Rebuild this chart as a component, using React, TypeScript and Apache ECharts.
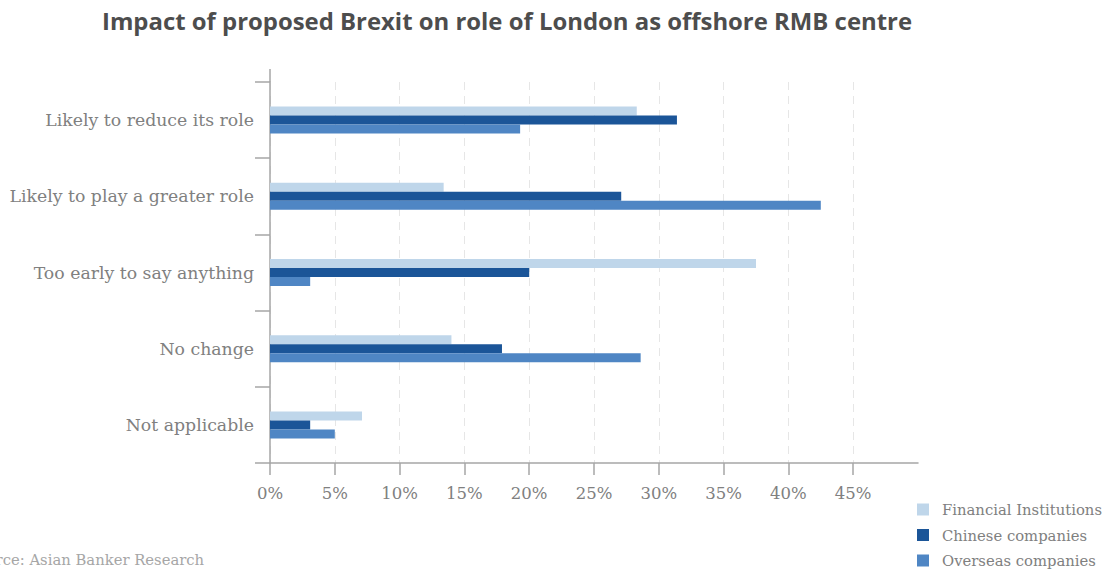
import React, { useEffect, useRef } from "react";
import * as echarts from "echarts";

const categories = [
  "Likely to reduce its role",
  "Likely to play a greater role",
  "Too early to say anything",
  "No change",
  "Not applicable",
];
const financialInstitutions = [28.3, 13.4, 37.5, 14.0, 7.1];
const chineseCompanies = [31.4, 27.1, 20.0, 17.9, 3.1];
const overseasCompanies = [19.3, 42.5, 3.1, 28.6, 5.0];
const tickValues = [0, 5, 10, 15, 20, 25, 30, 35, 40, 45];

const serif = "'DejaVu Serif', serif";

export default function App() {
  const ref = useRef<HTMLDivElement>(null);
  useEffect(() => {
    const chart = echarts.init(ref.current!, null, { renderer: "svg" });
    chart.setOption({
      animation: false,
      backgroundColor: "#ffffff",
      title: {
        text: "Impact of proposed Brexit on role of London as offshore RMB centre",
        left: 97,
        top: 3,
        textStyle: {
          fontFamily: "'Open Sans', sans-serif",
          fontWeight: "bold",
          fontSize: 23.9,
          color: "#4d4d4d",
        },
      },
      legend: {
        orient: "vertical",
        left: 912,
        top: 497,
        itemWidth: 12,
        itemHeight: 12,
        itemGap: 10.5,
        icon: "rect",
        textStyle: { fontFamily: serif, fontSize: 14.8, color: "#808080", padding: [0, 0, 0, 8] },
        data: ["Financial Institutions", "Chinese companies", "Overseas companies"],
      },
      grid: { left: 270, right: 195, top: 82, bottom: 112, containLabel: false },
      xAxis: {
        type: "value",
        min: 0,
        max: 50,
        interval: 5,
        axisLine: { show: true, lineStyle: { color: "#a6a6a6", width: 1.5 } },
        axisTick: { show: true, length: 12, customValues: tickValues, lineStyle: { color: "#a6a6a6", width: 1.5 } },
        axisLabel: {
          customValues: tickValues,
          formatter: (v: number) => v + "%",
          fontFamily: serif,
          fontSize: 16.5,
          color: "#808080",
          margin: 22,
        },
        splitLine: { show: true, lineStyle: { color: "#e6e6e6", type: [8, 6], width: 1 } },
      },
      yAxis: {
        type: "category",
        inverse: true,
        data: categories,
        axisLine: { show: true, lineStyle: { color: "#a6a6a6", width: 1.5 } },
        axisTick: { show: true, length: 15, lineStyle: { color: "#a6a6a6", width: 1.5 } },
        axisLabel: { fontFamily: serif, fontSize: 17.3, color: "#808080", margin: 16 },
      },
      series: [
        {
          name: "Financial Institutions",
          type: "bar",
          data: financialInstitutions,
          itemStyle: { color: "#bfd6ea" },
          barWidth: 9,
          barGap: "0%",
        },
        {
          name: "Chinese companies",
          type: "bar",
          data: chineseCompanies,
          itemStyle: { color: "#1b5598" },
          barWidth: 9,
          barGap: "0%",
        },
        {
          name: "Overseas companies",
          type: "bar",
          data: overseasCompanies,
          itemStyle: { color: "#4f86c4" },
          barWidth: 9,
          barGap: "0%",
        },
      ],
      graphic: [
        {
          type: "line",
          shape: { x1: 270, y1: 69, x2: 270, y2: 82 },
          style: { stroke: "#a6a6a6", lineWidth: 1.5 },
        },
        {
          type: "text",
          left: -33,
          top: 552,
          style: { text: "Source: Asian Banker Research", fontFamily: serif, fontSize: 14.8, fill: "#a6a6a6" },
        },
      ],
    });
    return () => chart.dispose();
  }, []);
  return (
    <div
      ref={ref}
      style={{ position: "absolute", left: 0, top: 0, width: 1113, height: 575 }}
    />
  );
}
